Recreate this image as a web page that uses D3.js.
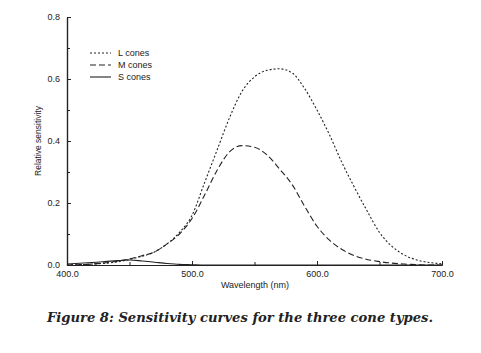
<!DOCTYPE html>
<html>
<head>
<meta charset="utf-8">
<script src="https://cdn.jsdelivr.net/npm/d3@7"></script>
<style>
  body { margin: 0; background: #fff; }
  text { fill: #222; }
</style>
</head>
<body>
<script>
var wavelengths = [400, 420, 440, 450, 460, 470, 480, 490, 500, 510, 520, 530, 540, 550, 560, 570, 580, 590, 600, 610, 620, 630, 640, 650, 660, 670, 680, 690, 700];
var lCones = [0.0, 0.003, 0.01, 0.018, 0.028, 0.042, 0.068, 0.105, 0.16, 0.265, 0.37, 0.475, 0.56, 0.607, 0.628, 0.633, 0.62, 0.57, 0.5, 0.42, 0.33, 0.25, 0.175, 0.105, 0.06, 0.032, 0.016, 0.008, 0.004];
var mCones = [0.0, 0.003, 0.012, 0.02, 0.03, 0.042, 0.068, 0.1, 0.15, 0.225, 0.305, 0.365, 0.385, 0.38, 0.355, 0.31, 0.26, 0.19, 0.125, 0.08, 0.05, 0.03, 0.018, 0.011, 0.006, 0.003, 0.001, 0.0, 0.0];
var sCones = [0.003, 0.008, 0.014, 0.016, 0.013, 0.009, 0.005, 0.002, 0.001, 0.0, 0.0, 0.0, 0.0, 0.0, 0.0, 0.0, 0.0, 0.0, 0.0, 0.0, 0.0, 0.0, 0.0, 0.0, 0.0, 0.0, 0.0, 0.0, 0.0];
var seriesNames = ['L cones', 'M cones', 'S cones'];
var xTicks = [400, 500, 600, 700];
var xMinor = [450, 550, 650];
var yTicks = [0.0, 0.2, 0.4, 0.6, 0.8];
var yMinor = [0.1, 0.3, 0.5, 0.7];

var dashes = ['2,2', '6,3', null];
var labelFont = '"Liberation Sans Narrow", "Liberation Sans", Arial, sans-serif';

var svg = d3.select('body').append('svg')
    .attr('width', 481)
    .attr('height', 353);

var x = d3.scaleLinear().domain([400, 700]).range([67, 442]);
var y = d3.scaleLinear().domain([0, 0.8]).range([265, 17]);

var series = [lCones, mCones, sCones];

var line = d3.line()
    .x(function(d, i) { return x(wavelengths[i]); })
    .y(function(d) { return y(d); })
    .curve(d3.curveMonotoneX);

svg.selectAll('path.curve')
    .data(series)
    .enter().append('path')
    .attr('class', 'curve')
    .attr('d', line)
    .attr('fill', 'none')
    .attr('stroke', '#222')
    .attr('stroke-width', 1.1)
    .attr('stroke-dasharray', function(d, i) { return dashes[i]; });

// axes, ticks point inward
var xAxis = d3.axisBottom(x)
    .tickValues(xTicks)
    .tickFormat(d3.format('.1f'))
    .tickSizeInner(-4)
    .tickSizeOuter(0)
    .tickPadding(6);
var xAxisMinor = d3.axisBottom(x)
    .tickValues(xMinor)
    .tickFormat('')
    .tickSizeInner(-3)
    .tickSizeOuter(0);
var yAxis = d3.axisLeft(y)
    .tickValues(yTicks)
    .tickFormat(d3.format('.1f'))
    .tickSizeInner(-4)
    .tickSizeOuter(0)
    .tickPadding(7);
var yAxisMinor = d3.axisLeft(y)
    .tickValues(yMinor)
    .tickFormat('')
    .tickSizeInner(-3)
    .tickSizeOuter(0);

svg.append('g').attr('transform', 'translate(0,265)').call(xAxisMinor);
svg.append('g').attr('transform', 'translate(0,265)').call(xAxis);
svg.append('g').attr('transform', 'translate(67,0)').call(yAxisMinor);
svg.append('g').attr('transform', 'translate(67,0)').call(yAxis);

svg.selectAll('.domain').attr('stroke', '#222').attr('stroke-width', 1.2);
svg.selectAll('.tick line').attr('stroke', '#222');
svg.selectAll('.tick text')
    .style('font-family', labelFont)
    .style('font-size', '9px')
    .style('fill', '#222');

// axis titles
svg.append('text')
    .attr('x', 255)
    .attr('y', 288)
    .attr('text-anchor', 'middle')
    .style('font-family', labelFont)
    .style('font-size', '9px')
    .text('Wavelength (nm)');

svg.append('text')
    .attr('transform', 'translate(41,141) rotate(-90)')
    .attr('text-anchor', 'middle')
    .style('font-family', labelFont)
    .style('font-size', '8.5px')
    .text('Relative sensitivity');

// legend
var legend = svg.selectAll('g.legend')
    .data(seriesNames)
    .enter().append('g')
    .attr('class', 'legend')
    .attr('transform', function(d, i) { return 'translate(90,' + (53 + i * 12) + ')'; });

legend.append('line')
    .attr('x1', 0)
    .attr('x2', 21)
    .attr('y1', 0)
    .attr('y2', 0)
    .attr('stroke', '#222')
    .attr('stroke-width', 1.1)
    .attr('stroke-dasharray', function(d, i) { return dashes[i]; });

legend.append('text')
    .attr('x', 28)
    .attr('y', 3)
    .style('font-family', labelFont)
    .style('font-size', '9px')
    .text(function(d) { return d; });

// caption
svg.append('text')
    .attr('x', 47)
    .attr('y', 322)
    .attr('textLength', 386)
    .attr('lengthAdjust', 'spacingAndGlyphs')
    .style('font-family', '"DejaVu Serif", serif')
    .style('font-style', 'italic')
    .style('font-weight', 'bold')
    .style('font-size', '13px')
    .text('Figure 8:  Sensitivity curves for the three cone types.');
</script>
</body>
</html>
